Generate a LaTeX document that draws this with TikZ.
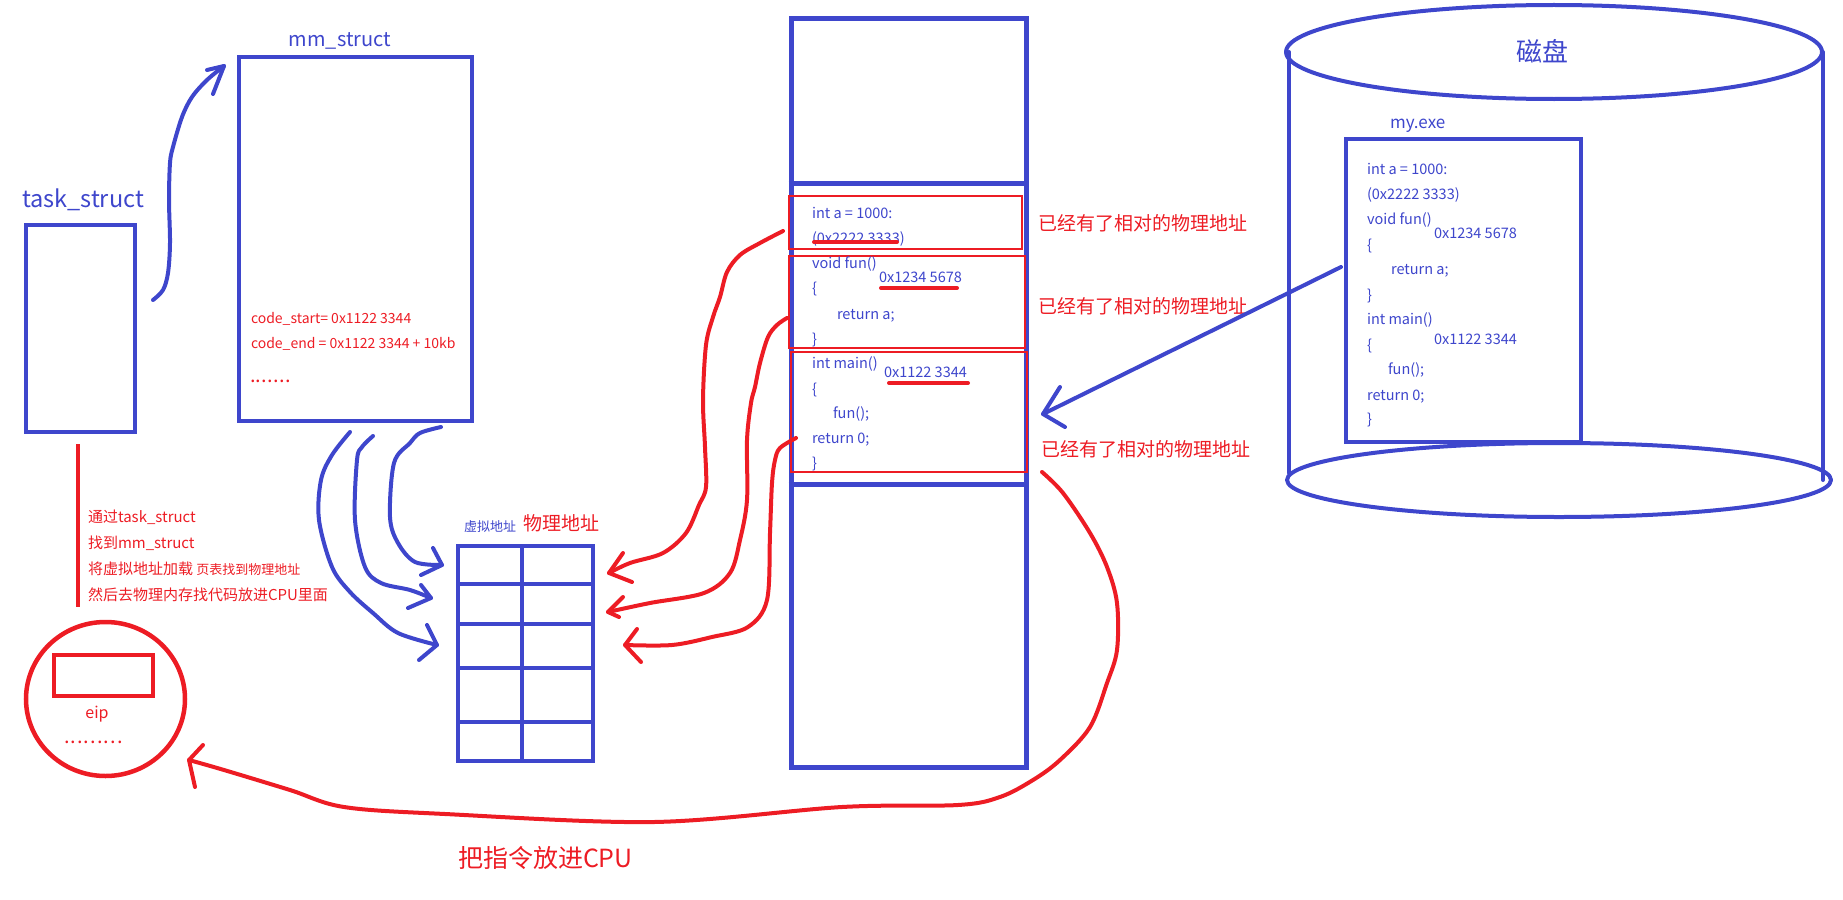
\documentclass[tikz,border=0pt]{standalone}
\usepackage{fontspec}
\setmainfont{Noto Sans CJK SC}
\usetikzlibrary{shapes.geometric}
\definecolor{bl}{RGB}{62,70,204}
\definecolor{rd}{RGB}{237,28,36}
\newcommand{\fs}[1]{\fontsize{#1}{#1}\selectfont}
\newcommand{\dotsrow}[2]{\foreach \i in {1,...,#1}{.\ifnum\i<#1\kern#2\fi}}
\begin{document}
\begin{tikzpicture}[x=1pt,y=-1pt,
  bstroke/.style={draw=bl, line width=4pt, line cap=round, line join=round},
  rstroke/.style={draw=rd, line width=4pt, line cap=round, line join=round},
  bbox/.style={draw=bl, line width=4.5pt, rectangle, inner sep=0pt, outer sep=0pt},
  rthin/.style={draw=rd, line width=1.2pt, rectangle, inner sep=0pt, outer sep=0pt},
  txt/.style={inner sep=0pt, outer sep=0pt, anchor=base west},
  code/.style={txt, text=bl, font=\fs{14.5}},
  rcode/.style={txt, text=rd, font=\fs{14}},
  note/.style={txt, text=rd, font=\fs{15}},
  lab/.style={txt, text=rd, font=\fs{19}},
  curvy/.style={smooth, tension=0.55}
]
\useasboundingbox (0,0) rectangle (1843,899);

% ---------- task_struct ----------
\node[txt, text=bl, font=\fs{23.5}] (tasklab) at (22,207) {task\_struct};
\node[bbox, minimum width=109pt, minimum height=207pt] (task) at (80.5,328.5) {};

% ---------- mm_struct ----------
\node[txt, text=bl, font=\fs{20}, anchor=base] (mmlab) at (340,47) {mm\_struct};
\node[bbox, minimum width=233pt, minimum height=364pt] (mm) at (355.5,239) {};
\node[rcode] (cs) at (251,323) {code\_start= 0x1122 3344};
\node[rcode] (ce) at (251,348) {code\_end = 0x1122 3344 + 10kb};
\node[txt, text=rd, font=\fs{20}] (cd) at (250,382) {\dotsrow{7}{0.3pt}};

% task -> mm arrow
\coordinate (tmS) at (153,300);
\coordinate (tmE) at (224,66);
\draw[bstroke] plot[curvy] coordinates {(tmS) (163,290) (168,273) (170,243) (169,200) (170,163) (173,147) (182,117) (192,97) (207,80) (tmE)};
\draw[bstroke] (213,94) -- (tmE) -- (207,70);

% ---------- notes + CPU ----------
\coordinate (vlT) at (78,444);
\coordinate (vlB) at (78,607);
\draw[rstroke, line cap=butt] (vlT) -- (vlB);
\node[note] (n1) at (88,522.5) {通过task\_struct};
\node[note] (n2) at (88,548.5) {找到mm\_struct};
\node[note] (n3) at (88,574.5) {将虚拟地址加载 {\fs{13}页表找到物理地址}};
\node[note] (n4) at (88,600.5) {然后去物理内存找代码放进CPU里面};

\node[ellipse, draw=rd, line width=4.5pt, minimum width=159pt, minimum height=154pt, inner sep=0pt] (cpu) at (105.5,699) {};
\node[draw=rd, line width=4.5pt, rectangle, minimum width=99pt, minimum height=41pt, inner sep=0pt] (eipbox) at (103.5,675.5) {};
\node[txt, anchor=base, text=rd, font=\fs{16}] (eip) at (97,718) {eip};
\node[txt, text=rd, font=\fs{20}] (cpudots) at (64,743) {\dotsrow{9}{1.1pt}};

% ---------- page table ----------
\node[txt, text=bl, font=\fs{13}] (vlab) at (464,531) {虚拟地址};
\node[lab] (plab) at (523,530) {物理地址};
\node[draw=bl, line width=4pt, rectangle, minimum width=135pt, minimum height=215pt, inner sep=0pt] (tbl) at (525.5,653.5) {};
\draw[draw=bl, line width=4pt] (522,546) -- (522,761);
\foreach \yy in {584,624,668,722} \draw[draw=bl, line width=4pt] (458,\yy) -- (593,\yy);

% mm -> table arrows
\coordinate (aS) at (350,432); \coordinate (aE) at (437,645);
\draw[bstroke] plot[curvy] coordinates {(aS) (332,455) (321,480) (319,520) (332,567) (350,592) (373,613) (398,633) (aE)};
\draw[bstroke] (427,625) -- (aE) -- (419,660);
\coordinate (bS) at (373,436); \coordinate (bE) at (431,598);
\draw[bstroke] plot[curvy] coordinates {(bS) (362,447) (357,460) (355,520) (365,567) (381,583) (410,590) (bE)};
\draw[bstroke] (421,585) -- (bE) -- (408,608);
\coordinate (cS) at (441,427); \coordinate (cE) at (442,565);
\draw[bstroke] plot[curvy] coordinates {(cS) (420,433) (410,443) (394,463) (390,517) (398,543) (415,562) (cE)};
\draw[bstroke] (433,548) -- (cE) -- (421,575);

% ---------- memory column ----------
\node[draw=bl, line width=5pt, rectangle, minimum width=235pt, minimum height=748pt, inner sep=0pt] (mem) at (908.5,393) {};
\draw[draw=bl, line width=5pt] (mem.west |- 0,183) -- (mem.east |- 0,183);
\draw[draw=bl, line width=5pt] (mem.west |- 0,484) -- (mem.east |- 0,484);
\node[rthin, minimum width=233pt, minimum height=53pt] (seg1) at (905.5,222.5) {};
\node[rthin, minimum width=236pt, minimum height=92pt] (seg2) at (907,302) {};
\node[rthin, minimum width=236pt, minimum height=120pt] (seg3) at (909,412) {};

\node[code] at (812,218) {int a = 1000:};
\node[code] at (812,243) {(0x2222 3333)};
\node[code] at (812,268) {void fun()};
\node[code] at (812,293) {\{};
\node[code] at (837,319) {return a;};
\node[code] at (812,344) {\}};
\node[code] at (812,368) {int main()};
\node[code] at (812,394) {\{};
\node[code] at (833,418) {fun();};
\node[code] at (812,443) {return 0;};
\node[code] at (812,468) {\}};
\node[code] (m1) at (879,282) {0x1234 5678};
\node[code] (m2) at (884,377) {0x1122 3344};
\draw[rstroke] (814,242) -- (897,242);
\draw[rstroke] (881,288) -- (957,288);
\draw[rstroke] (889,383) -- (968,383);

\node[lab] (l1) at (1038,230) {已经有了相对的物理地址};
\node[lab] (l2) at (1038,313) {已经有了相对的物理地址};
\node[lab] (l3) at (1041,456) {已经有了相对的物理地址};

% memory -> table red arrows
\coordinate (r1S) at (783,231); \coordinate (r1E) at (609,573);
\draw[rstroke] plot[curvy] coordinates {(r1S) (760,243) (740,255) (727,272) (720,297) (713,317) (706,345) (703,400) (705,447) (706,487) (699,505) (686,533) (663,553) (630,563) (r1E)};
\draw[rstroke] (623,553) -- (r1E) -- (632,582);
\coordinate (r2S) at (787,318); \coordinate (r2E) at (608,612);
\draw[rstroke] plot[curvy] coordinates {(r2S) (777,325) (768,337) (760,363) (755,387) (751,403) (747,440) (747,500) (740,540) (730,573) (704,593) (650,603) (r2E)};
\draw[rstroke] (623,597) -- (r2E) -- (619,617);
\coordinate (r3S) at (796,438); \coordinate (r3E) at (625,645);
\draw[rstroke] plot[curvy] coordinates {(r3S) (780,448) (775,460) (772,483) (770,533) (767,600) (748,627) (712,637) (672,645) (r3E)};
\draw[rstroke] (637,629) -- (r3E) -- (641,662);

% memory -> CPU big arrow
\coordinate (r4S) at (1042,472); \coordinate (r4E) at (189,760);
\draw[rstroke] plot[curvy] coordinates {(r4S) (1063,493) (1090,533) (1107,567) (1117,603) (1117,650) (1107,683) (1090,727) (1060,760) (1033,780) (1000,797) (958,805) (842,807) (654,822) (445,814) (344,807) (290,790) (224,770) (r4E)};
\draw[rstroke] (203,745) -- (r4E) -- (195,787);
\node[txt, text=rd, font=\fs{25}] (cpulab) at (458,867) {把指令放进CPU};

% ---------- disk ----------
\draw[bstroke] (1554,52) ellipse [x radius=268pt, y radius=47pt];
\draw[bstroke] (1289,52) -- (1289,473);
\draw[bstroke] (1823,52) -- (1823,480);
\draw[bstroke] (1559,480) ellipse [x radius=272pt, y radius=37pt];
\node[txt, text=bl, font=\fs{26}] (disklab) at (1516,62) {磁盘};
\node[txt, text=bl, font=\fs{17}] (exelab) at (1390,128) {my.exe};
\node[bbox, minimum width=235pt, minimum height=303pt, fill=white] (exe) at (1463.5,290.5) {};
\node[code] at (1367,174) {int a = 1000:};
\node[code] at (1367,199) {(0x2222 3333)};
\node[code] at (1367,224) {void fun()};
\node[code] at (1367,250) {\{};
\node[code] at (1391,274) {return a;};
\node[code] at (1367,300) {\}};
\node[code] at (1367,324) {int main()};
\node[code] at (1367,350) {\{};
\node[code] at (1388,374) {fun();};
\node[code] at (1367,400) {return 0;};
\node[code] at (1367,424) {\}};
\node[code] at (1434,238) {0x1234 5678};
\node[code] at (1434,344) {0x1122 3344};

% disk -> memory arrow
\coordinate (dS) at (1341,267); \coordinate (dE) at (1043,414);
\draw[bstroke] (dS) -- (dE);
\draw[bstroke] (1060,387) -- (dE) -- (1065,427);
\end{tikzpicture}
\end{document}
